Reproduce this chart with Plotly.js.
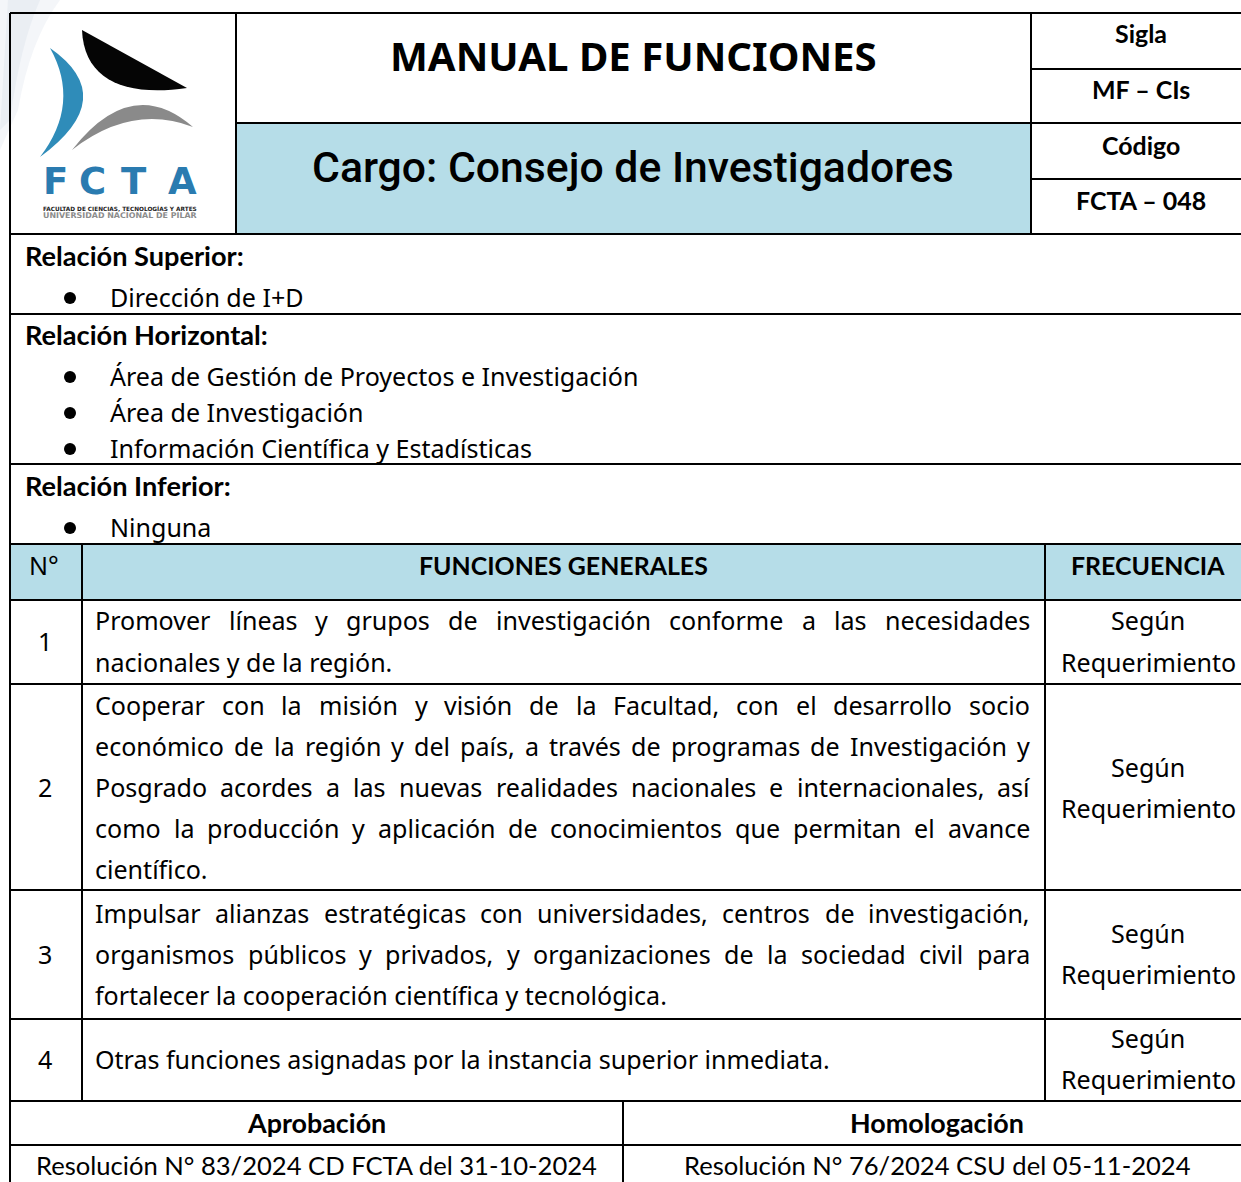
<!DOCTYPE html>
<html>
<head>
<meta charset="utf-8">
<script src="https://cdn.plot.ly/plotly-3.0.1.min.js"></script>
<style>html,body{margin:0;padding:0;background:#fff;}#chart{width:1241px;height:1182px;}</style>
</head>
<body>
<div id="chart"></div>
<script>
// ---------------- DATA (content only) ----------------
const headerTitle = "MANUAL DE FUNCIONES";
const cargoTitle = "Cargo: Consejo de Investigadores";
const sideLabels = ["Sigla", "MF – CIs", "Código", "FCTA – 048"];
const relationTitles = ["Relación Superior:", "Relación Horizontal:", "Relación Inferior:"];
const relationItems = [
  ["Dirección de I+D"],
  ["Área de Gestión de Proyectos e Investigación", "Área de Investigación", "Información Científica y Estadísticas"],
  ["Ninguna"]
];
const tableHeaders = ["N°", "FUNCIONES GENERALES", "FRECUENCIA"];
const functionNumbers = ["1", "2", "3", "4"];
const functionLines = [
  ["Promover líneas y grupos de investigación conforme a las necesidades",
   "nacionales y de la región."],
  ["Cooperar con la misión y visión de la Facultad, con el desarrollo socio",
   "económico de la región y del país, a través de programas de Investigación y",
   "Posgrado acordes a las nuevas realidades nacionales e internacionales, así",
   "como la producción y aplicación de conocimientos que permitan el avance",
   "científico."],
  ["Impulsar alianzas estratégicas con universidades, centros de investigación,",
   "organismos públicos y privados, y organizaciones de la sociedad civil para",
   "fortalecer la cooperación científica y tecnológica."],
  ["Otras funciones asignadas por la instancia superior inmediata."]
];
const frequencyLines = ["Según", "Requerimiento"];
const footerHeaders = ["Aprobación", "Homologación"];
const footerValues = ["Resolución N° 83/2024 CD FCTA del 31-10-2024", "Resolución N° 76/2024 CSU del 05-11-2024"];
const logoLetters = ["F", "C", "T", "A"];
const logoSubtitle = ["FACULTAD DE CIENCIAS, TECNOLOGÍAS Y ARTES", "UNIVERSIDAD NACIONAL DE PILAR"];

// ---------------- LAYOUT CONSTANTS ----------------
const W = 1241, H = 1182;
const BLUE = "#b6dde8";
const LW = 2;
const TEXT_DY = -1.5;
const geom = {
  left: 10, right: 1241, top: 13,
  logoR: 236, sideL: 1031, titleSplit: 123, headBottom: 234,
  sideRows: [69, 179],
  sections: [234, 314, 464, 544],
  tHeadBottom: 600,
  colN: 82, colF: 1045,
  rowLines: [684, 890, 1019, 1101],
  footMid: 1145, footDiv: 623
};
const pos = {
  titleY: 57, cargoY: 168, titleX: 633,
  sideX: 1141, sideY: [34, 90, 146, 201],
  relTitleX: 25, relTitleY: [257, 336, 487],
  bulletX: 70, itemX: 110, itemY: [[298], [377, 413, 449], [528]],
  headY: 566, headX: [44, 563, 1148],
  numX: 45, numY: [642, 788, 955, 1060],
  textL: 95, textR: 1030,
  lineY: [[621, 663], [706, 747, 788, 829, 870], [914, 955, 996], [1060]],
  freqX: 1148, freqY: [[621, 663], [768, 809], [934, 975], [1039, 1080]],
  footX: [316, 937], footHeadY: 1124, footValY: 1166,
  letterX: [55, 92, 134, 182], letterY: 183,
  subX: 120, subY: [209.5, 216.5]
};

// ---------------- text measurement ----------------
const cvs = document.createElement("canvas");
const ctx = cvs.getContext("2d");
function measure(text, family, weight, size) {
  ctx.font = weight + " " + size + "px " + family.split(",").map(f => "\"" + f.trim() + "\"").join(",");
  return ctx.measureText(text).width;
}
function fit(text, family, weight, target) {
  return 100 * target / measure(text, family, weight, 100);
}
function installed(family) {
  const s = "abcdefghijklmnopqrstuvwxyz ABCDEFG";
  ctx.font = "40px monospace"; const a = ctx.measureText(s).width;
  ctx.font = "40px \"" + family + "\", monospace"; const b = ctx.measureText(s).width;
  return Math.abs(a - b) > 0.5;
}
const BODY = "Noto Sans", CAL = "Lato";
const ARIAL = installed("Roboto") ? "Roboto" : "Liberation Sans";
const ARIAL_W = ARIAL === "Roboto" ? 500 : 400;
const bodySize = fit(functionLines[3][0], BODY, "normal", 735);
const titleSize = fit(headerTitle, BODY, "bold", 487);
const cargoSize = fit(cargoTitle, ARIAL, String(ARIAL_W), 642);
const sideSize = fit(sideLabels[3], CAL, "bold", 131);
const relSize = fit(relationTitles[1], CAL, "bold", 243);
const headSize = fit(tableHeaders[1], CAL, "bold", 289);
const footHeadSize = fit(footerHeaders[1], CAL, "bold", 174);
const footValSize = fit(footerValues[0], CAL, "normal", 562);

const annotations = [];
function ann(text, x, y, family, weight, size, anchor, color) {
  annotations.push({
    x: x, y: y + TEXT_DY, xref: "x", yref: "y", text: text, showarrow: false,
    xanchor: anchor || "center", yanchor: "middle", borderpad: 0, borderwidth: 0,
    font: {family: family, size: size, color: color || "#000",
           weight: typeof weight === "number" ? weight : (weight === "bold" ? 700 : 400)}
  });
}
function justified(line, y, justify) {
  if (!justify) { ann(line, pos.textL, y, BODY, "normal", bodySize, "left"); return; }
  const words = line.split(" ");
  const ws = words.map(w => measure(w, BODY, "normal", bodySize));
  const total = ws.reduce((a, b) => a + b, 0);
  const gap = (pos.textR - pos.textL - total) / (words.length - 1);
  let x = pos.textL;
  words.forEach((w, i) => { ann(w, x, y, BODY, "normal", bodySize, "left"); x += ws[i] + gap; });
}

// header texts
ann(headerTitle, pos.titleX, pos.titleY, BODY, "bold", titleSize);
ann(cargoTitle, pos.titleX, pos.cargoY, ARIAL, ARIAL_W, cargoSize);
sideLabels.forEach((t, i) => ann(t, pos.sideX, pos.sideY[i], CAL, "bold", sideSize));

// relations
const bx = [], by = [];
relationTitles.forEach((t, i) => {
  ann(t, pos.relTitleX, pos.relTitleY[i], CAL, "bold", relSize, "left");
  relationItems[i].forEach((it, j) => {
    ann(it, pos.itemX, pos.itemY[i][j], BODY, "normal", bodySize, "left");
    bx.push(pos.bulletX); by.push(pos.itemY[i][j]);
  });
});

// table header
ann(tableHeaders[0], pos.headX[0], pos.headY, BODY, "normal", bodySize);
ann(tableHeaders[1], pos.headX[1], pos.headY, CAL, "bold", headSize);
ann(tableHeaders[2], pos.headX[2], pos.headY, CAL, "bold", headSize);

// rows
functionLines.forEach((lines, r) => {
  ann(functionNumbers[r], pos.numX, pos.numY[r], BODY, "normal", bodySize);
  lines.forEach((ln, k) => justified(ln, pos.lineY[r][k], k < lines.length - 1));
  frequencyLines.forEach((f, k) => ann(f, pos.freqX, pos.freqY[r][k], BODY, "normal", bodySize));
});

// footer
footerHeaders.forEach((t, i) => ann(t, pos.footX[i], pos.footHeadY, CAL, "bold", footHeadSize));
footerValues.forEach((t, i) => ann(t, pos.footX[i], pos.footValY, CAL, "normal", footValSize));

// logo texts
logoLetters.forEach((l, i) => ann(l, pos.letterX[i], pos.letterY, "DejaVu Sans", 800, 37, "center", "#2a7bb0"));
ann(logoSubtitle[0], pos.subX, pos.subY[0], "DejaVu Sans", "bold", fit(logoSubtitle[0], "DejaVu Sans", "bold", 154), "center", "#222");
ann(logoSubtitle[1], pos.subX, pos.subY[1], "DejaVu Sans", "bold", fit(logoSubtitle[1], "DejaVu Sans", "bold", 154), "center", "#8c8c8c");

// ---------------- shapes ----------------
const shapes = [];
function rect(x0, y0, x1, y1, fill) {
  shapes.push({type: "rect", xref: "x", yref: "y", x0, y0, x1, y1, fillcolor: fill, line: {width: 0}, layer: "below"});
}
function line(x0, y0, x1, y1) {
  shapes.push({type: "line", xref: "x", yref: "y", x0, y0, x1, y1, line: {color: "#000", width: LW}});
}
function path(d, fill) {
  shapes.push({type: "path", xref: "x", yref: "y", path: d, fillcolor: fill, line: {width: 0}, layer: "below"});
}
const g = geom;
// faint watermark in the corner
path("M0,0 L60,0 Q30,40 18,110 L0,150 Z", "rgba(205,215,228,0.22)");
path("M8,0 L40,0 Q20,45 10,120 L0,130 Z", "rgba(205,215,228,0.25)");
rect(g.logoR, g.titleSplit, g.sideL, g.headBottom, BLUE);
rect(g.left, g.sections[3], g.right, g.tHeadBottom, BLUE);
// logo
path("M82,30 L187,88 C125,97 84,80 82,30 Z", "#050505");
path("M50,48 Q121,97.5 40,157 Q81,103.5 50,48 Z", "#2f8cb9");
path("M72,150 Q131.5,73.5 193,127 Q131.5,103.5 72,150 Z", "#8a8a8a");
// lines
line(g.left, g.top, g.right, g.top);
line(g.left, g.top, g.left, H);
line(g.logoR, g.top, g.logoR, g.headBottom);
line(g.sideL, g.top, g.sideL, g.headBottom);
line(g.logoR, g.titleSplit, g.right, g.titleSplit);
g.sideRows.forEach(y => line(g.sideL, y, g.right, y));
g.sections.forEach(y => line(g.left, y, g.right, y));
line(g.left, g.tHeadBottom, g.right, g.tHeadBottom);
line(g.colN, g.sections[3], g.colN, g.rowLines[3]);
line(g.colF, g.sections[3], g.colF, g.rowLines[3]);
g.rowLines.forEach(y => line(g.left, y, g.right, y));
line(g.left, g.footMid, g.right, g.footMid);
line(g.footDiv, g.rowLines[3], g.footDiv, H);

const traces = [{
  type: "scatter", mode: "markers", x: bx, y: by, hoverinfo: "skip",
  marker: {symbol: "circle", size: 12, color: "#000"}, showlegend: false
}];

const layout = {
  width: W, height: H, margin: {l: 0, r: 0, t: 0, b: 0, pad: 0},
  paper_bgcolor: "#fff", plot_bgcolor: "#fff", showlegend: false,
  xaxis: {range: [0, W], visible: false, fixedrange: true},
  yaxis: {range: [H, 0], visible: false, fixedrange: true},
  shapes: shapes, annotations: annotations
};
Plotly.newPlot("chart", traces, layout, {staticPlot: true, displayModeBar: false});
</script>
</body>
</html>
